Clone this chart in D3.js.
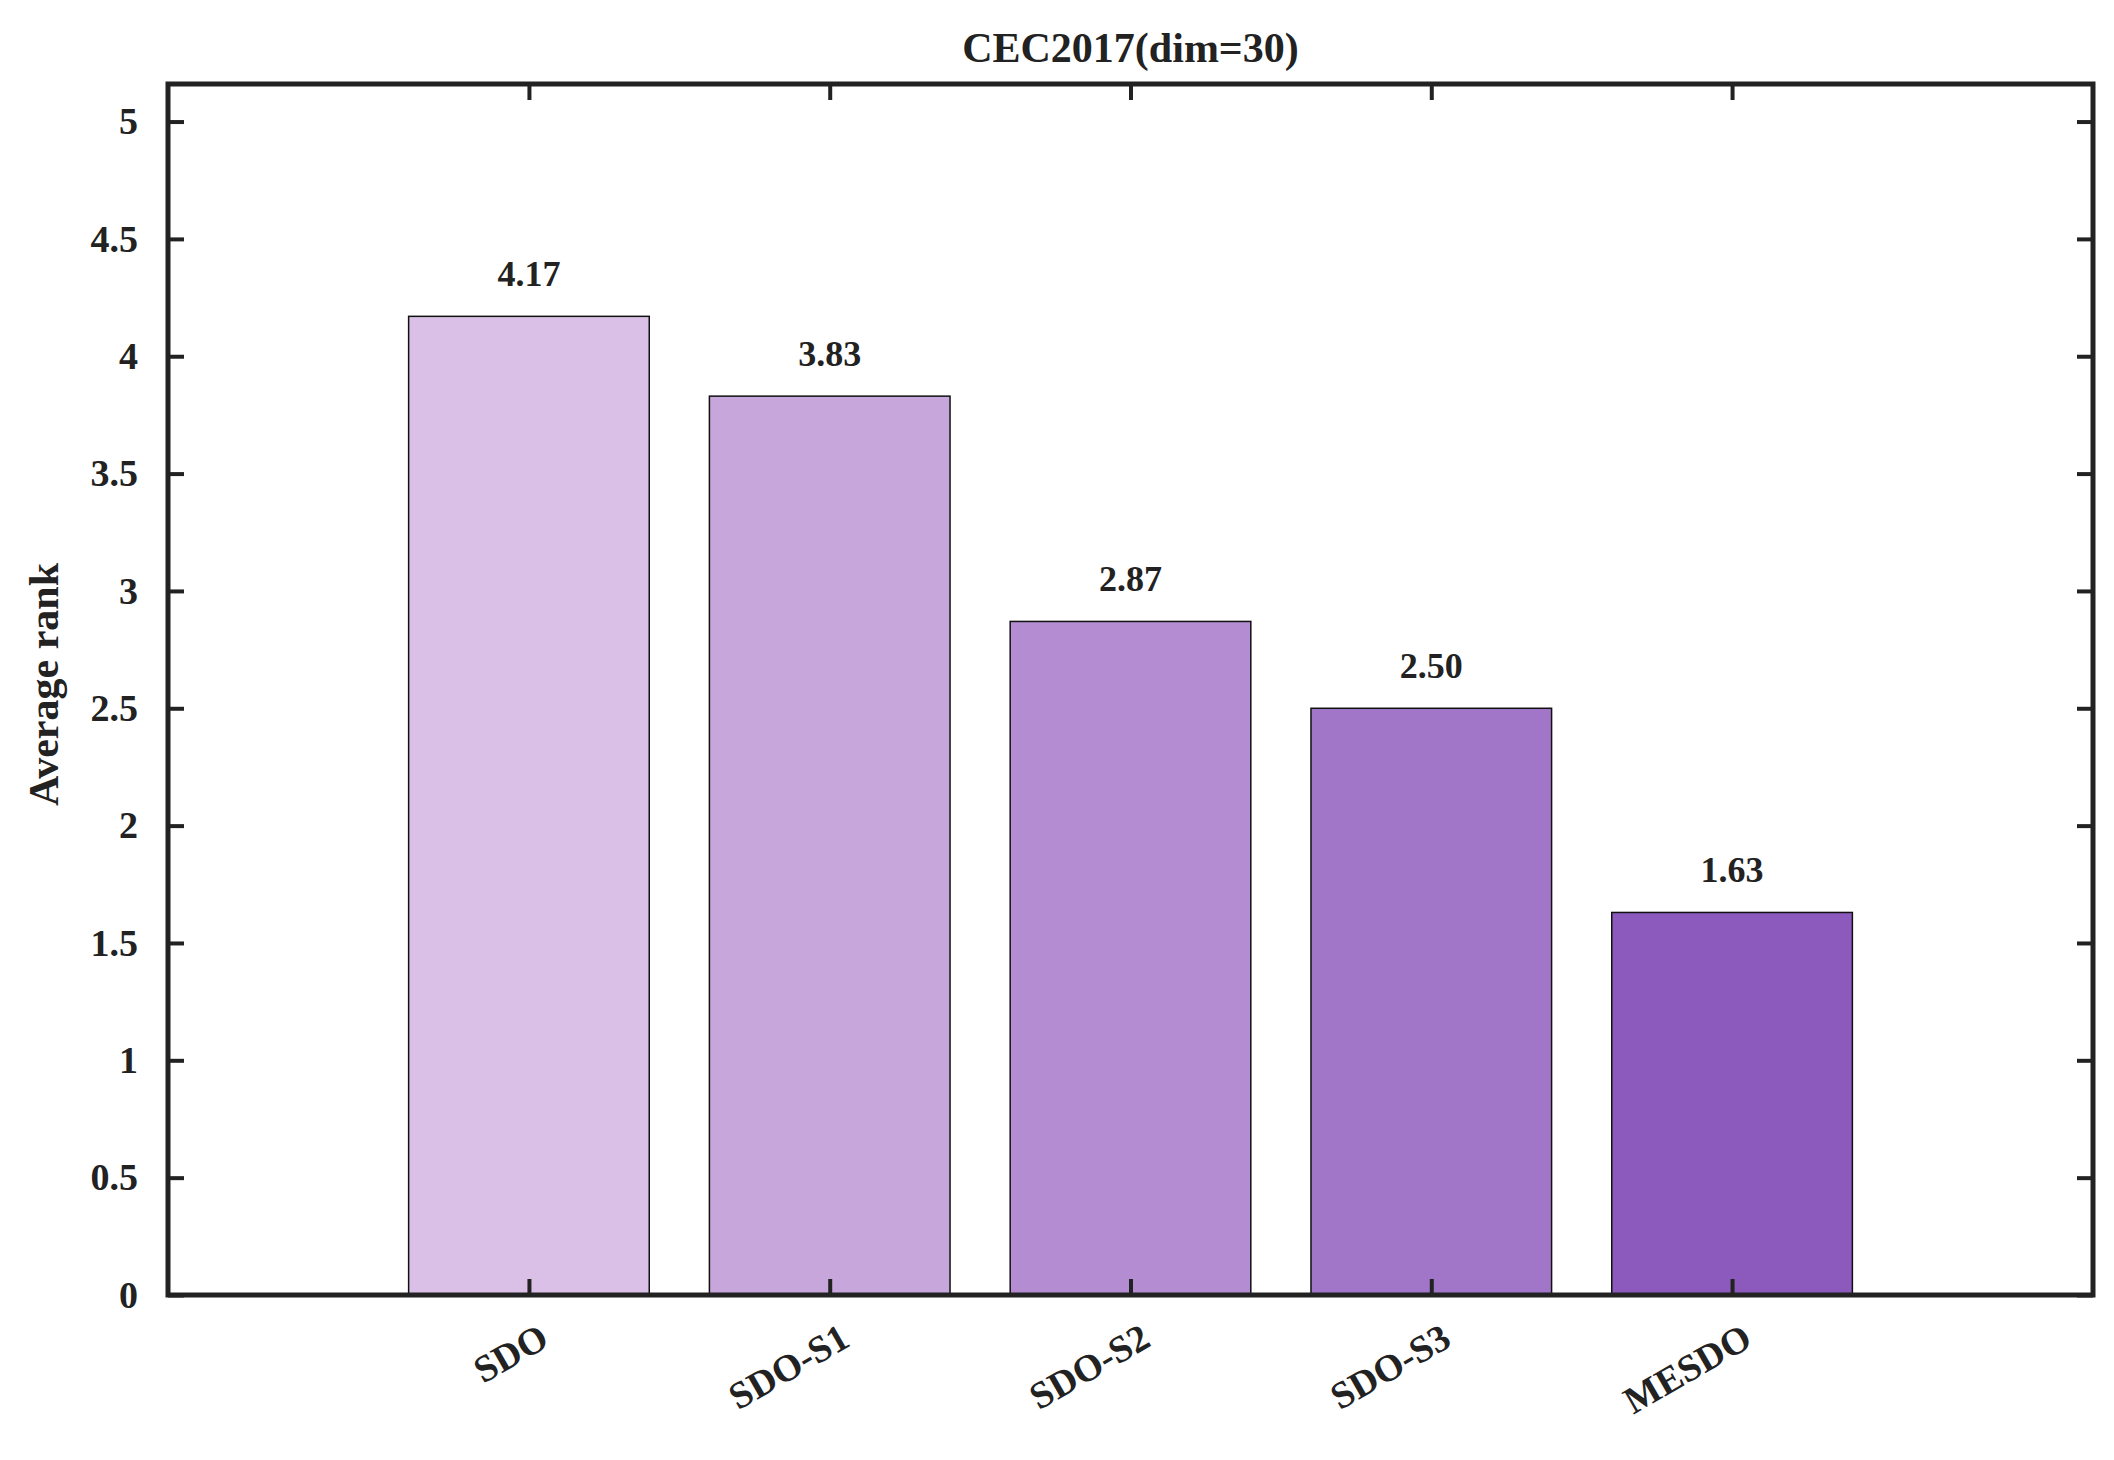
<!DOCTYPE html>
<html><head><meta charset="utf-8">
<script src="https://cdn.jsdelivr.net/npm/d3@7"></script>
<style>body{margin:0;background:#fff}text{font-family:"Liberation Serif","Times New Roman",serif;font-weight:bold;fill:#222}</style>
</head><body><div id="chart"></div>
<script>
// data
const algos = ["SDO", "SDO-S1", "SDO-S2", "SDO-S3", "MESDO"];
const ranks = [4.17, 3.83, 2.87, 2.50, 1.63];
const colors = ["#dac0e6", "#c7a6db", "#b38cd1", "#a176c8", "#8c5abd"];
const yTicks = [0, 0.5, 1, 1.5, 2, 2.5, 3, 3.5, 4, 4.5, 5];

const W = 2114, H = 1460;
const m = {left: 168, right: 2093, top: 84, bottom: 1295};

const svg = d3.select("#chart").append("svg").attr("width", W).attr("height", H);

const x = d3.scaleLinear().domain([-1.2, 5.2]).range([m.left, m.right]);
const y = d3.scaleLinear().domain([0, 5.16]).range([m.bottom, m.top]);

// bars
svg.selectAll(".bar").data(ranks).enter().append("rect")
  .attr("x", (d, i) => x(i - 0.4))
  .attr("width", x(0.8) - x(0))
  .attr("y", d => y(d))
  .attr("height", d => y(0) - y(d))
  .attr("fill", (d, i) => colors[i])
  .attr("stroke", "#111").attr("stroke-width", 1.5);

svg.selectAll(".val").data(ranks).enter().append("text")
  .attr("x", (d, i) => x(i)).attr("y", d => y(d) - 30)
  .attr("text-anchor", "middle").attr("font-size", 36)
  .text(d => d.toFixed(2));

// axes, ticks inward
const tl = 16;
svg.append("g").attr("transform", `translate(${m.left},0)`)
  .call(d3.axisLeft(y).tickValues(yTicks).tickSize(-tl).tickPadding(tl + 14).tickFormat(d3.format("")))
  .call(g => g.selectAll("text").attr("font-size", 38));
svg.append("g").attr("transform", `translate(${m.right},0)`)
  .call(d3.axisRight(y).tickValues(yTicks).tickSize(-tl).tickFormat(""));
svg.append("g").attr("transform", `translate(0,${m.bottom})`)
  .call(d3.axisBottom(x).tickValues(d3.range(algos.length)).tickSize(-tl).tickFormat(""));
svg.append("g").attr("transform", `translate(0,${m.top})`)
  .call(d3.axisTop(x).tickValues(d3.range(algos.length)).tickSize(-tl).tickFormat(""));
svg.selectAll(".domain").remove();
svg.selectAll(".tick line").attr("stroke", "#222").attr("stroke-width", 4);
svg.selectAll(".tick text").attr("fill", "#222");

svg.append("rect").attr("x", m.left).attr("y", m.top)
  .attr("width", m.right - m.left).attr("height", m.bottom - m.top)
  .attr("fill", "none").attr("stroke", "#222").attr("stroke-width", 5);

// rotated category labels
svg.selectAll(".xl").data(algos).enter().append("text")
  .attr("transform", (d, i) => `translate(${x(i) + 22},${m.bottom + 50}) rotate(-30)`)
  .attr("text-anchor", "end").attr("font-size", 38)
  .text(d => d);

svg.append("text").attr("x", (m.left + m.right) / 2).attr("y", 62)
  .attr("text-anchor", "middle").attr("font-size", 42).text("CEC2017(dim=30)");

svg.append("text").attr("transform", `translate(58,${(m.top + m.bottom) / 2 - 5}) rotate(-90)`)
  .attr("text-anchor", "middle").attr("font-size", 42).text("Average rank");
</script></body></html>
